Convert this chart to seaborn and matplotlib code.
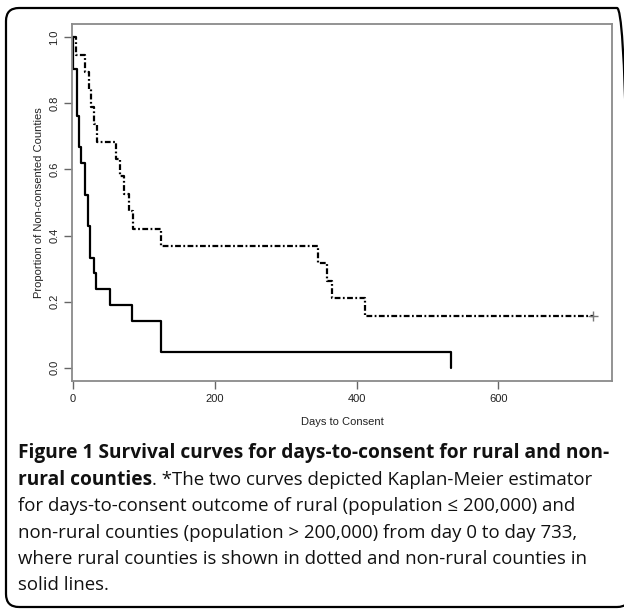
import numpy as np
import pandas as pd
import matplotlib
matplotlib.use("Agg")
import matplotlib.pyplot as plt
import seaborn as sns
from matplotlib.patches import FancyBboxPatch
from matplotlib.transforms import IdentityTransform

# ---------------- data ----------------
rural_n = 19
rural_days = [4, 17, 23, 26, 30, 34, 61, 67, 72, 80, 85, 124, 345, 359, 366, 412]
rural_events = [1, 1, 1, 1, 1, 1, 1, 1, 1, 1, 1, 1, 1, 1, 1, 1]
rural_censor_day = 733

nonrural_n = 21
nonrural_days = [1, 6, 8.5, 12, 18, 21.5, 25, 30, 33, 53, 83, 124, 533]
nonrural_events = [2, 3, 2, 1, 2, 2, 2, 1, 1, 1, 1, 2, 1]

x_ticks = [0, 200, 400, 600]
y_ticks = [0.0, 0.2, 0.4, 0.6, 0.8, 1.0]
y_tick_labels = ["0.0", "0.2", "0.4", "0.6", "0.8", "1.0"]

x_label = "Days to Consent"
y_label = "Proportion of Non-consented Counties"

# ---------------- Kaplan-Meier step values ----------------
def km(n, days, events):
    surv = 1 - np.cumsum(events) / n
    return [0] + list(days), [1.0] + list(surv)

r_x, r_y = km(rural_n, rural_days, rural_events)
r_x = r_x + [rural_censor_day]
r_y = r_y + [r_y[-1]]
n_x, n_y = km(nonrural_n, nonrural_days, nonrural_events)

df_r = pd.DataFrame({"day": r_x, "surv": r_y})
df_n = pd.DataFrame({"day": n_x, "surv": n_y})
df_c = pd.DataFrame({"day": [rural_censor_day], "surv": [r_y[-1]]})

# ---------------- figure ----------------
sns.set_style("ticks")
plt.rcParams["font.family"] = ["Liberation Sans", "DejaVu Sans"]

W, H = 624, 610
fig = plt.figure(figsize=(W / 100, H / 100), dpi=100)
ax = fig.add_axes([72 / W, 1 - 381 / H, (612 - 72) / W, (381 - 24) / H])

sns.lineplot(data=df_n, x="day", y="surv", ax=ax, estimator=None, sort=False,
             drawstyle="steps-post", color="black", linewidth=1.6)
sns.lineplot(data=df_r, x="day", y="surv", ax=ax, estimator=None, sort=False,
             drawstyle="steps-post", color="black", linewidth=1.6,
             linestyle=(0, (2.6, 1.1, 0.8, 1.1)))
sns.scatterplot(data=df_c, x="day", y="surv", ax=ax, marker="+", s=60,
                color="#777777", linewidth=1.0, zorder=5)

ax.set_xlim(-1, 760)
ax.set_ylim(-0.04, 1.04)
ax.set_xticks(x_ticks)
ax.set_xticklabels([str(v) for v in x_ticks], fontsize=8, color="#222222")
ax.set_yticks(y_ticks)
ax.set_yticklabels(y_tick_labels, fontsize=8, color="#222222",
                   rotation=90, va="center")
ax.tick_params(axis="both", length=6, width=1.0, color="#666666", pad=3)
ax.set_xlabel(x_label, fontsize=8, color="#222222", labelpad=10)
ax.set_ylabel(y_label, fontsize=8, color="#222222", labelpad=4)
for s in ax.spines.values():
    s.set_visible(True)
    s.set_color("#8a8a8a")
    s.set_linewidth(1.3)

# ---------------- outer rounded border ----------------
box = FancyBboxPatch((6, 3), 630 - 6, 602 - 3,
                     boxstyle="round,pad=0,rounding_size=13",
                     transform=IdentityTransform(), fill=False,
                     edgecolor="black", linewidth=1.6)
fig.add_artist(box)

# ---------------- caption ----------------
cap_font = ["Open Sans", "DejaVu Sans"]
x0 = 18

def px_text(x, ybase, s, weight="normal"):
    size = 13.8 if weight == "bold" else 13.4
    return fig.text(x / W, 1 - ybase / H, s, fontsize=size, family=cap_font,
                    fontweight=weight, va="baseline", ha="left", color="#111111")

px_text(x0, 458, "Figure 1 Survival curves for days-to-consent for rural and non-", "bold")
t = px_text(x0, 485, "rural counties", "bold")
renderer = fig.canvas.get_renderer()
bb = t.get_window_extent(renderer=renderer)
px_text(bb.x1, 485, ". *The two curves depicted Kaplan-Meier estimator")
px_text(x0, 511, "for days-to-consent outcome of rural (population \u2264 200,000) and")
px_text(x0, 538, "non-rural counties (population > 200,000) from day 0 to day 733,")
px_text(x0, 564, "where rural counties is shown in dotted and non-rural counties in")
px_text(x0, 590, "solid lines.")

fig.savefig("out.png", dpi=100)
